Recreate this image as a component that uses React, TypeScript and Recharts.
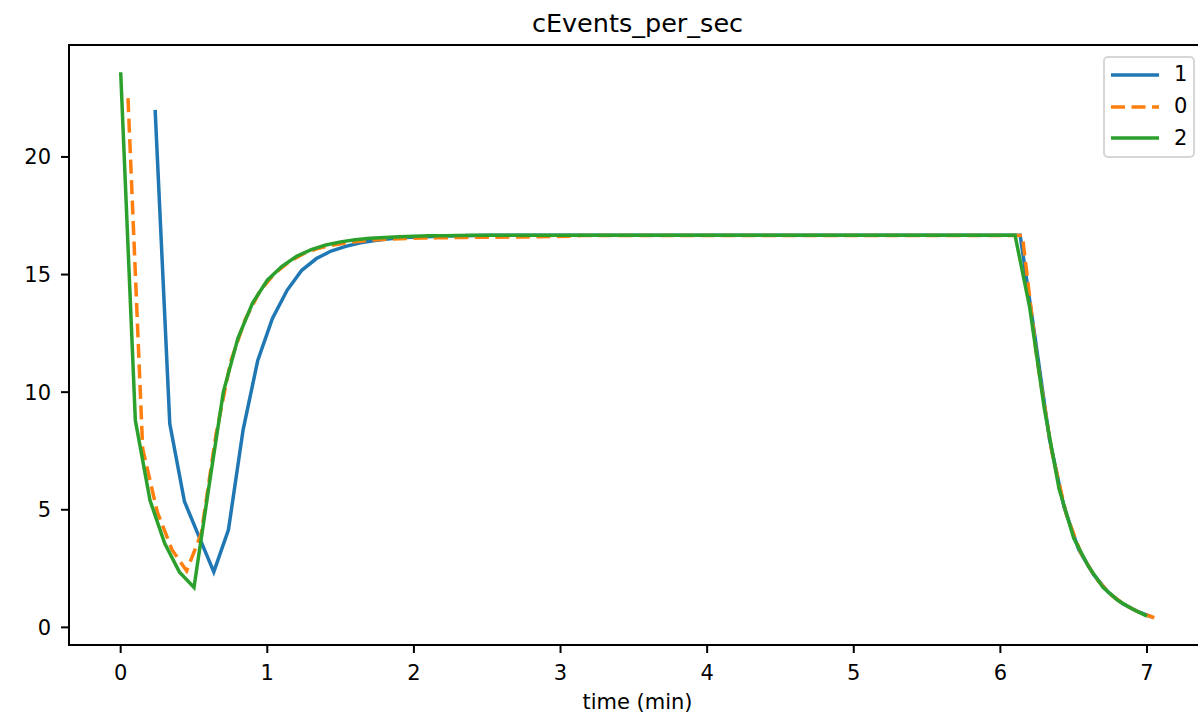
import React from 'react'
import { LineChart, Line, XAxis, YAxis, Legend, ReferenceArea } from 'recharts'

// samples are 0.1 min apart, each run starts at its own offset
const STEP = 0.1
const run1Start = 0.235
const run0Start = 0.05
const run2Start = 0

const run1Values = [
  22.0, 8.65, 5.35, 3.85, 2.36, 4.15, 8.4, 11.35, 13.13, 14.33,
  15.18, 15.68, 16.0, 16.2, 16.35, 16.45, 16.52, 16.57, 16.6, 16.62,
  16.64, 16.65, 16.66,
  16.67, 16.67, 16.67, 16.67, 16.67, 16.67, 16.67, 16.67, 16.67, 16.67,
  16.67, 16.67, 16.67, 16.67, 16.67, 16.67, 16.67, 16.67, 16.67, 16.67,
  16.67, 16.67, 16.67, 16.67, 16.67, 16.67, 16.67, 16.67, 16.67, 16.67,
  16.67, 16.67, 16.67, 16.67, 16.67, 16.67, 16.67,
  12.4, 8.0, 5.1, 3.3, 2.25, 1.5, 1.0, 0.68, 0.44,
]

const run0Values = [
  22.5, 7.6, 4.9, 3.3, 2.4, 4.0, 8.2, 11.3, 13.1, 14.3,
  15.05, 15.55, 15.9, 16.12, 16.26, 16.36, 16.43, 16.48, 16.51, 16.53,
  16.55, 16.56, 16.57, 16.58, 16.59, 16.59, 16.6, 16.6, 16.61, 16.62,
  16.63,
  16.66, 16.66, 16.66, 16.66, 16.66, 16.66, 16.66, 16.66, 16.66, 16.66,
  16.66, 16.66, 16.66, 16.66, 16.66, 16.66, 16.66, 16.66, 16.66, 16.66,
  16.66, 16.66, 16.66, 16.66, 16.66, 16.66, 16.66, 16.66, 16.66, 16.66,
  16.66,
  11.4, 7.5, 4.8, 3.15, 2.1, 1.4, 0.95, 0.63, 0.41,
]

const run2Values = [
  23.6, 8.8, 5.4, 3.57, 2.36, 1.7, 5.9, 10.0, 12.3, 13.8,
  14.76, 15.35, 15.78, 16.06, 16.26, 16.39, 16.48, 16.54, 16.58, 16.61,
  16.63, 16.645, 16.655, 16.66,
  16.67, 16.67, 16.67, 16.67, 16.67, 16.67, 16.67, 16.67, 16.67, 16.67,
  16.67, 16.67, 16.67, 16.67, 16.67, 16.67, 16.67, 16.67, 16.67, 16.67,
  16.67, 16.67, 16.67, 16.67, 16.67, 16.67, 16.67, 16.67, 16.67, 16.67,
  16.67, 16.67, 16.67, 16.67, 16.67, 16.67, 16.67, 16.67,
  13.6, 9.3, 5.9, 3.8, 2.6, 1.7, 1.15, 0.78, 0.48,
]

const xTicks = [0, 1, 2, 3, 4, 5, 6, 7]
const yTicks = [0, 5, 10, 15, 20]

const toPoints = (start: number, values: number[]) =>
  values.map((v, i) => ({ t: +(start + i * STEP).toFixed(3), v }))

const series = [
  { name: '1', color: '#1f77b4', dash: undefined, data: toPoints(run1Start, run1Values) },
  { name: '0', color: '#ff7f0e', dash: '14 6.5', data: toPoints(run0Start, run0Values) },
  { name: '2', color: '#2ca02c', dash: undefined, data: toPoints(run2Start, run2Values) },
]

// matplotlib style 5% padding around the data
const pad = (lo: number, hi: number): [number, number] => {
  const m = (hi - lo) * 0.05
  return [lo - m, hi + m]
}
const allT = series.flatMap(s => s.data.map(d => d.t))
const allV = series.flatMap(s => s.data.map(d => d.v))
const xDomain = pad(Math.min(...allT), Math.max(...allT))
const yDomain = pad(Math.min(...allV), Math.max(...allV))

const FONT = '"DejaVu Sans", sans-serif'
const tickStyle = { fill: '#000', fontSize: 21, fontFamily: FONT }

const LegendBox = () => (
  <div
    style={{
      border: '2px solid rgba(204,204,204,0.8)',
      borderRadius: 5,
      background: 'rgba(255,255,255,0.8)',
      padding: '1px 0 2px 6px',
      boxSizing: 'border-box',
      width: 92,
      fontFamily: FONT,
      fontSize: 21,
      color: '#000',
    }}
  >
    {series.map(s => (
      <div key={s.name} style={{ display: 'flex', alignItems: 'center', height: 31.7 }}>
        <svg width={48} height={10}>
          <line x1={0} y1={5} x2={48} y2={5} stroke={s.color} strokeWidth={3.5} strokeDasharray={s.dash} />
        </svg>
        <span style={{ marginLeft: 15, lineHeight: 1 }}>{s.name}</span>
      </div>
    ))}
  </div>
)

const App = () => {
  return (
    <div
      style={{
        position: 'absolute',
        left: 0,
        top: 0,
        width: 1198,
        height: 721,
        overflow: 'hidden',
        background: '#fff',
      }}
    >
      <svg width={1198} height={45} style={{ position: 'absolute', left: 0, top: 0 }}>
        <text x={637.5} y={32} textAnchor="middle" fontFamily={FONT} fontSize={25.5} fill="#000">
          cEvents_per_sec
        </text>
      </svg>
      <LineChart
        width={1210}
        height={721}
        margin={{ top: 45, right: 4, bottom: 0, left: 0 }}
      >
        <XAxis
          type="number"
          dataKey="t"
          domain={xDomain}
          ticks={xTicks}
          allowDataOverflow
          axisLine={false}
          tickLine={{ stroke: '#000', strokeWidth: 2 }}
          tickSize={8}
          tickMargin={12}
          tick={tickStyle}
          height={76}
          label={{ value: 'time (min)', position: 'insideBottom', offset: 12, fill: '#000', fontSize: 21, fontFamily: FONT }}
        />
        <YAxis
          type="number"
          dataKey="v"
          domain={yDomain}
          ticks={yTicks}
          allowDataOverflow
          axisLine={false}
          tickLine={{ stroke: '#000', strokeWidth: 2 }}
          tickSize={8}
          tickMargin={10}
          tick={tickStyle}
          width={69}
        />
        {series.map(s => (
          <Line
            key={s.name}
            data={s.data}
            dataKey="v"
            name={s.name}
            type="linear"
            stroke={s.color}
            strokeWidth={3.5}
            strokeDasharray={s.dash}
            dot={false}
            activeDot={false}
            isAnimationActive={false}
          />
        ))}
        <ReferenceArea
          x1={xDomain[0]}
          x2={xDomain[1]}
          y1={yDomain[0]}
          y2={yDomain[1]}
          fill="none"
          stroke="#000"
          strokeWidth={2}
          ifOverflow="visible"
        />
        <Legend
          layout="vertical"
          align="center"
          verticalAlign="middle"
          content={<LegendBox />}
          wrapperStyle={{ position: 'absolute', left: 1103, top: 56, width: 92, height: 'auto' }}
        />
      </LineChart>
    </div>
  )
}

export default App
